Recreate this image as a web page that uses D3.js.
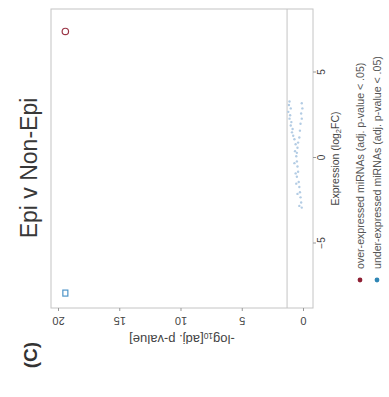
<!DOCTYPE html>
<html>
<head>
<meta charset="utf-8">
<script src="https://cdn.jsdelivr.net/npm/d3@7"></script>
<style>
  body { margin: 0; background: #fff; }
  svg { display: block; font-family: "Liberation Sans", Arial, sans-serif; }
</style>
</head>
<body>
<svg width="389" height="397"></svg>
<script>
"use strict";

// significant points
var upFC = [7.4], upP = [19.4];
var downFC = [-7.9], downP = [19.4];

// non-significant cluster
var clusterFC = [3.3, 3.1, 2.9, 2.7, 2.5, 2.3, 2.1, 1.9, 1.7, 1.5, 1.3, 1.1,
                 3.2, 2.9, 2.6, 2.3, 2.0, 1.6, 1.2, 0.9, 0.6, 0.3, 0.1, -0.2,
                 -0.5, -0.8, -1.1, -1.4, -1.7, -2.0, -2.3, -2.6, -2.9,
                 0.8, 0.4, -0.3, -0.9, -1.5, -2.1, -2.8];
var clusterP = [1.1, 1.15, 1.0, 1.2, 1.05, 1.1, 0.95, 1.0, 0.85, 0.9, 0.8, 0.7,
                0.1, 0.05, 0.15, 0.1, 0.2, 0.25, 0.3, 0.4, 0.45, 0.5, 0.55, 0.5,
                0.45, 0.4, 0.5, 0.35, 0.3, 0.25, 0.2, 0.15, 0.1,
                0.6, 0.65, 0.7, 0.6, 0.55, 0.45, 0.3];

var fcTicks = [-5, 0, 5];
var pTicks = [0, 5, 10, 15, 20];
var threshold = 1.3;

var legendLabels = ["over-expressed miRNAs (adj. p-value < .05)",
                    "under-expressed miRNAs (adj. p-value < .05)"];
var legendColors = ["#8e2034", "#2f86b5"];

var svg = d3.select("svg");

// the whole figure is drawn upright then turned a quarter turn
var g = svg.append("g").attr("transform", "translate(0,397) rotate(-90)");

var panel = {left: 89, right: 388, top: 51, bottom: 313};

var x = d3.scaleLinear().domain([-5, 5]).range([153.5, 324.5]);
var y = d3.scaleLinear().domain([0, 20]).range([303, 58]);

g.append("rect")
    .attr("x", panel.left).attr("y", panel.top)
    .attr("width", panel.right - panel.left)
    .attr("height", panel.bottom - panel.top)
    .attr("fill", "#fff")
    .attr("stroke", "#c4c4c4")
    .attr("stroke-width", 1);

g.append("line")
    .attr("x1", panel.left).attr("x2", panel.right)
    .attr("y1", y(threshold)).attr("y2", y(threshold))
    .attr("stroke", "#c4c4c4");

var xAxis = g.append("g")
    .attr("transform", "translate(0," + panel.bottom + ")")
    .call(d3.axisBottom(x).tickValues(fcTicks).tickSize(3).tickFormat(d3.format("d")));

var yAxis = g.append("g")
    .attr("transform", "translate(" + panel.left + ",0)")
    .call(d3.axisLeft(y).tickValues(pTicks).tickSize(3));

[xAxis, yAxis].forEach(function(a) {
  a.select(".domain").remove();
  a.selectAll("line").attr("stroke", "#999");
  a.selectAll("text").attr("fill", "#444");
});
xAxis.selectAll("text").style("font-size", "10px").attr("y", 5);

// R style: y tick labels run parallel to the axis
yAxis.selectAll("text")
    .style("font-size", "11px")
    .attr("x", 0).attr("dy", 0)
    .attr("text-anchor", "middle")
    .attr("transform", "translate(-9,0) rotate(-90)");

// axis titles
var yt = g.append("text")
    .attr("transform", "translate(62," + ((panel.top + panel.bottom) / 2) + ") rotate(-90)")
    .attr("text-anchor", "middle")
    .attr("fill", "#444")
    .style("font-size", "13px");
yt.append("tspan").text("-log");
yt.append("tspan").attr("dy", 2).style("font-size", "8.5px").text("10");
yt.append("tspan").attr("dy", -2).text("[adj. p-value]");

var xt = g.append("text")
    .attr("x", (panel.left + panel.right) / 2)
    .attr("y", 339)
    .attr("text-anchor", "middle")
    .attr("fill", "#444")
    .style("font-size", "10.5px");
xt.append("tspan").text("Expression (log");
xt.append("tspan").attr("dy", 2).style("font-size", "7.5px").text("2");
xt.append("tspan").attr("dy", -2).text("FC)");

// points
g.selectAll("circle.ns")
    .data(clusterFC.map(function(d, i) { return {fc: d, p: clusterP[i]}; }))
    .enter().append("circle")
    .attr("class", "ns")
    .attr("cx", function(d) { return x(d.fc); })
    .attr("cy", function(d) { return y(d.p); })
    .attr("r", 1.2)
    .attr("fill", "#b3cce4");

g.selectAll("circle.up")
    .data(upFC.map(function(d, i) { return {fc: d, p: upP[i]}; }))
    .enter().append("circle")
    .attr("class", "up")
    .attr("cx", function(d) { return x(d.fc); })
    .attr("cy", function(d) { return y(d.p); })
    .attr("r", 3.2)
    .attr("fill", "none")
    .attr("stroke", "#9a3445")
    .attr("stroke-width", 1.2);

g.selectAll("rect.down")
    .data(downFC.map(function(d, i) { return {fc: d, p: downP[i]}; }))
    .enter().append("rect")
    .attr("class", "down")
    .attr("x", function(d) { return x(d.fc) - 3; })
    .attr("y", function(d) { return y(d.p) - 2.5; })
    .attr("width", 6).attr("height", 5)
    .attr("fill", "none")
    .attr("stroke", "#4f95c8")
    .attr("stroke-width", 1.2);

// legend
var legend = g.selectAll("g.legend")
    .data(legendLabels)
    .enter().append("g")
    .attr("class", "legend")
    .attr("transform", function(d, i) { return "translate(117," + (360 + i * 17) + ")"; });

legend.append("circle")
    .attr("r", 2.4)
    .attr("fill", function(d, i) { return legendColors[i]; });

legend.append("text")
    .attr("x", 11).attr("dy", "0.35em")
    .attr("fill", "#555")
    .style("font-size", "10.6px")
    .text(function(d) { return d; });

// title and panel letter
g.append("text")
    .attr("x", 229).attr("y", 37)
    .attr("text-anchor", "middle")
    .attr("fill", "#383838")
    .style("font-size", "23px")
    .text("Epi v Non-Epi");

g.append("text")
    .attr("x", 42).attr("y", 37)
    .attr("text-anchor", "middle")
    .attr("fill", "#333")
    .style("font-size", "19px")
    .style("font-weight", "bold")
    .text("(C)");
</script>
</body>
</html>
